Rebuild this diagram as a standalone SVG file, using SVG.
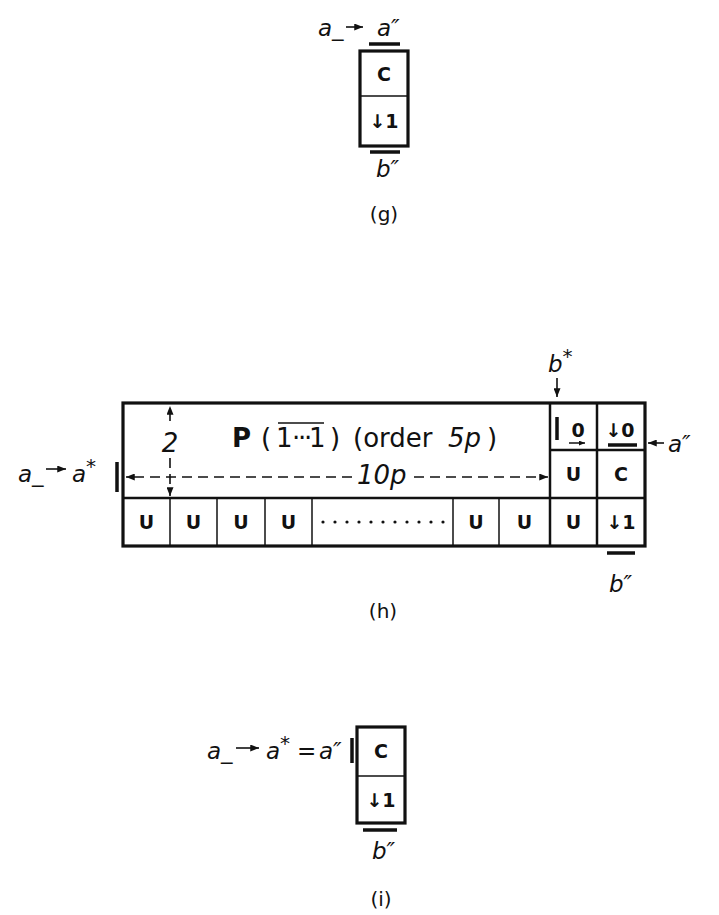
<svg xmlns="http://www.w3.org/2000/svg" width="719" height="915" viewBox="0 0 719 915">
<defs>
<marker id="ah" viewBox="0 0 10 8" refX="10" refY="4" markerWidth="9" markerHeight="7" markerUnits="userSpaceOnUse" orient="auto"><path d="M0,0 L10,4 L0,8 z" fill="#111"/></marker>
<marker id="ahs" viewBox="0 0 10 8" refX="10" refY="4" markerWidth="6" markerHeight="5" markerUnits="userSpaceOnUse" orient="auto"><path d="M0,0 L10,4 L0,8 z" fill="#111"/></marker>
</defs>
<style>
.thick{fill:none;stroke:#111;stroke-width:3.2}
.mid{fill:none;stroke:#111;stroke-width:2.5}
.thin{fill:none;stroke:#111;stroke-width:1.5}
.cell{font-family:"DejaVu Sans",sans-serif;font-weight:bold;font-size:19px;text-anchor:middle;fill:#111}
.lab{font-family:"DejaVu Sans",sans-serif;font-style:italic;font-size:23px;fill:#111}
.big{font-family:"DejaVu Sans",sans-serif;font-size:26px;fill:#111}
.cap{font-family:"DejaVu Sans",sans-serif;font-size:20px;text-anchor:middle;fill:#111}
.arr{stroke:#111;stroke-width:1.6;fill:none;marker-end:url(#ah)}
.arrs{stroke:#111;stroke-width:1.5;fill:none;marker-end:url(#ahs)}
.dash{stroke:#111;stroke-width:1.6;stroke-dasharray:10 6;fill:none}
.bar{stroke:#111;stroke-width:3.5;fill:none}
</style>
<rect width="719" height="915" fill="#fff"/>

<!-- Figure (g) -->
<g id="g-box">
<rect class="thick" x="360" y="51" width="48" height="95"/>
<line class="thin" x1="360" y1="96" x2="408" y2="96"/>
</g>
<g id="g-cell-c"><text class="cell" x="384" y="81">C</text></g>
<g id="g-cell-1"><text class="cell" x="384" y="128">↓1</text></g>
<g id="g-labels">
<line class="bar" x1="369" y1="44" x2="400" y2="44"/>
<line class="bar" x1="370" y1="152" x2="400" y2="152"/>
<text class="lab" x="318" y="36">a_</text>
<text class="lab" x="377" y="36">a″</text>
<text class="lab" x="376" y="177">b″</text>
<text class="cap" x="384" y="221">(g)</text>
</g>

<!-- Figure (h) -->
<g id="h-frame">
<rect class="thick" x="123" y="403" width="522" height="143"/>
<line class="mid" x1="123" y1="498" x2="645" y2="498"/>
<line class="mid" x1="550" y1="403" x2="550" y2="546"/>
<line class="mid" x1="597" y1="403" x2="597" y2="546"/>
<line class="mid" x1="550" y1="450" x2="645" y2="450"/>
</g>
<g id="h-top-block">
<text class="big" y="447"><tspan x="232" font-weight="bold">P</tspan><tspan x="261">(</tspan><tspan x="276 292 298 304 309">1···1</tspan><tspan x="330">)</tspan><tspan x="353">(order </tspan><tspan x="448" font-style="italic">5p</tspan><tspan x="487">)</tspan></text>
<line class="thin" x1="278" y1="423" x2="324" y2="423"/>
<text class="big" x="357" y="484" font-style="italic">10p</text>
<text class="big" x="170" y="452" font-style="italic" text-anchor="middle" font-size="28">2</text>
</g>
<g id="h-bottom-row">
<line class="thin" x1="170" y1="498" x2="170" y2="546"/>
<line class="thin" x1="217" y1="498" x2="217" y2="546"/>
<line class="thin" x1="265" y1="498" x2="265" y2="546"/>
<line class="thin" x1="312" y1="498" x2="312" y2="546"/>
<line class="thin" x1="453" y1="498" x2="453" y2="546"/>
<line class="thin" x1="499" y1="498" x2="499" y2="546"/>
<text class="cell" x="146.5" y="529">U</text>
<text class="cell" x="193.5" y="529">U</text>
<text class="cell" x="241" y="529">U</text>
<text class="cell" x="288.5" y="529">U</text>
<g fill="#111">
<circle cx="323" cy="522" r="1.6"/><circle cx="335" cy="522" r="1.6"/><circle cx="347" cy="522" r="1.6"/><circle cx="359" cy="522" r="1.6"/><circle cx="371" cy="522" r="1.6"/><circle cx="383" cy="522" r="1.6"/><circle cx="395" cy="522" r="1.6"/><circle cx="407" cy="522" r="1.6"/><circle cx="419" cy="522" r="1.6"/><circle cx="431" cy="522" r="1.6"/><circle cx="443" cy="522" r="1.6"/>
</g>
<text class="cell" x="476" y="529">U</text>
<text class="cell" x="524.5" y="529">U</text>
</g>
<g id="h-cell-0a">
<line class="bar" x1="557" y1="417" x2="557" y2="440" stroke-width="3"/>
<text class="cell" x="578" y="437">0</text>
<line class="arrs" x1="569" y1="443" x2="585" y2="443"/>
</g>
<g id="h-cell-0b">
<text class="cell" x="620" y="437">↓0</text>
<line class="bar" x1="608" y1="445" x2="637" y2="445"/>
</g>
<g id="h-cell-u"><text class="cell" x="573.5" y="481">U</text></g>
<g id="h-cell-c"><text class="cell" x="621" y="481">C</text></g>
<g id="h-cell-u2"><text class="cell" x="573.5" y="529">U</text></g>
<g id="h-cell-1"><text class="cell" x="621" y="529">↓1</text></g>
<g id="h-labels">
<text class="lab" x="18" y="482">a_</text>
<text class="lab" x="72" y="482">a<tspan dy="-9" font-size="20">*</tspan></text>
<line class="bar" x1="117" y1="462" x2="117" y2="492" stroke-width="3"/>
<text class="lab" x="548" y="372">b<tspan dy="-9" font-size="20">*</tspan></text>
<text class="lab" x="668" y="452">a″</text>
<line class="bar" x1="607" y1="553" x2="635" y2="553"/>
<text class="lab" x="609" y="592">b″</text>
<text class="cap" x="383" y="618">(h)</text>
</g>

<!-- Figure (i) -->
<g id="i-box">
<rect class="thick" x="357" y="727" width="48" height="96"/>
<line class="thin" x1="357" y1="776" x2="405" y2="776"/>
</g>
<g id="i-cell-c"><text class="cell" x="381" y="758">C</text></g>
<g id="i-cell-1"><text class="cell" x="381" y="807">↓1</text></g>
<g id="i-labels">
<text class="lab" x="207" y="759">a_</text>
<text class="lab" x="266" y="759">a<tspan dy="-9" font-size="20">*</tspan></text>
<text class="lab" x="297" y="759" font-style="normal">=</text>
<text class="lab" x="319" y="759">a″</text>
<line class="bar" x1="352" y1="738" x2="352" y2="763" stroke-width="3"/>
<line class="bar" x1="363" y1="830" x2="397" y2="830"/>
<text class="lab" x="372" y="859">b″</text>
<text class="cap" x="381" y="906">(i)</text>
</g>

<!-- connectors -->
<g id="connectors">
<line class="arr" x1="346" y1="27" x2="363" y2="27"/>
<line class="arr" x1="46" y1="469" x2="66" y2="469"/>
<line class="arr" x1="236" y1="748" x2="259" y2="748"/>
<line class="arr" x1="557" y1="378" x2="557" y2="397"/>
<line class="arr" x1="664" y1="443" x2="648" y2="443"/>
<path class="dash" d="M352,477 L126,477" marker-end="url(#ah)"/>
<path class="dash" d="M414,477 L548,477" marker-end="url(#ah)"/>
<path class="dash" d="M170,421 L170,406" marker-end="url(#ah)"/>
<path class="dash" d="M170,458 L170,496" marker-end="url(#ah)"/>
</g>
</svg>
